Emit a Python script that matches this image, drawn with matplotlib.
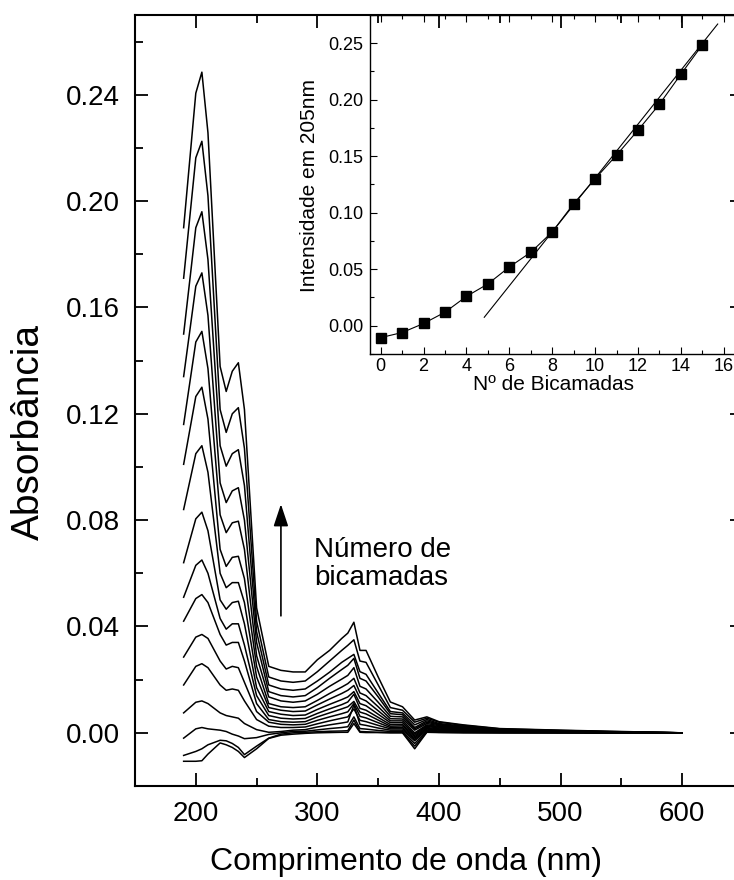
import matplotlib
matplotlib.use('Agg')
import matplotlib.pyplot as plt
from matplotlib.ticker import MultipleLocator, FormatStrFormatter

plt.rcParams['font.family'] = ['Liberation Sans', 'DejaVu Sans']

# comprimento de onda (nm) comum a todos os espectros
WAVELENGTH = [190, 200, 205, 210, 220, 225, 230, 235, 240, 250, 260, 270, 280,
              290, 300, 310, 320, 325, 330, 335, 340, 350, 360, 370, 380, 390,
              400, 420, 450, 500, 550, 600]

# absorbância de cada bicamada (0 .. 15)
A00 = [-.0107, -.0107, -.0105, -.008, -.0038, -.0045, -.0055, -.007, -.0093, -.006, -.0021, -.0009, -.0005,
       -.0002, 0, .0001, .0002, .0002, .0035, .0002, .0001, .0001, 0, 0, -.006, .0002,
       .0001, 0, 0, 0, 0, 0]
A01 = [-.0085, -.007, -.006, -.0045, -.0028, -.003, -.004, -.0055, -.0082, -.005, -.002, -.0005, 0,
       .0002, .0004, .0006, .0007, .0008, .0048, .0005, .0004, .0002, .0001, .0001, -.005, .0003,
       .0002, .0001, 0, 0, 0, 0]
A02 = [-.002, .0015, .002, .0015, .001, .0005, -.0005, -.0012, -.0022, -.0018, -.0006, 0, .0005,
       .0006, .0011, .0016, .002, .0023, .006, .0016, .0014, .0009, .0005, .0005, -.004, .0006,
       .0004, .0002, .0001, 0, 0, 0]
A03 = [.0075, .0115, .012, .011, .0075, .0065, .006, .0055, .0035, .0012, .0002, .0005, .001,
       .0012, .0022, .003, .0037, .0041, .0105, .0032, .0028, .0018, .001, .001, -.003, .001,
       .0007, .0004, .0002, .0001, 0, 0]
A04 = [.018, .025, .026, .0245, .018, .016, .0165, .016, .012, .005, .0025, .002, .002,
       .0022, .0034, .0045, .0055, .006, .009, .0047, .0042, .0028, .0015, .0015, -.0025, .0014,
       .001, .0006, .0004, .0002, 0, 0]
A05 = [.0285, .036, .037, .0355, .027, .024, .025, .0245, .019, .008, .004, .0032, .003,
       .0032, .0047, .006, .0072, .0079, .011, .0062, .0056, .0038, .002, .002, -.002, .0017,
       .0012, .0008, .0005, .0002, .0001, 0]
A06 = [.042, .0505, .052, .049, .037, .033, .034, .034, .027, .011, .005, .0042, .004,
       .0042, .006, .0075, .009, .0098, .0118, .0078, .0071, .0048, .0025, .0026, -.0015, .002,
       .0015, .001, .0006, .0003, .0001, 0]
A07 = [.051, .063, .065, .060, .043, .039, .041, .041, .033, .014, .0065, .0055, .0052,
       .0054, .0073, .009, .0106, .0116, .0145, .0092, .0085, .0058, .0031, .0031, -.001, .0024,
       .0018, .0012, .0007, .0003, .0001, 0]
A08 = [.064, .0805, .083, .076, .050, .0465, .049, .0495, .041, .017, .008, .007, .0065,
       .0067, .0088, .0107, .0125, .0135, .0155, .011, .0102, .007, .0038, .0038, -.0005, .0027,
       .0021, .0014, .0008, .0004, .0002, 0]
A09 = [.084, .105, .108, .098, .060, .0546, .0565, .0565, .049, .021, .0095, .0085, .008,
       .0082, .0105, .0127, .0148, .016, .0178, .013, .012, .0083, .0045, .0045, 0, .003,
       .0024, .0016, .0009, .0004, .0002, 0]
A10 = [.101, .1265, .130, .118, .069, .0626, .066, .0664, .058, .025, .011, .0098, .0095,
       .0098, .0122, .0148, .0172, .0185, .0205, .015, .014, .0098, .0053, .0052, .001, .0035,
       .0027, .0018, .001, .0005, .0002, 0]
A11 = [.116, .147, .151, .137, .082, .0753, .079, .0796, .069, .029, .0135, .012, .0115,
       .012, .0145, .0175, .0202, .0216, .0245, .0175, .0165, .0115, .0062, .006, .0015, .004,
       .003, .002, .0011, .0006, .0003, 0]
A12 = [.134, .168, .173, .157, .094, .0866, .091, .0922, .080, .034, .0155, .014, .0135,
       .014, .017, .0205, .0238, .0254, .028, .0205, .0195, .0135, .0072, .0068, .002, .0045,
       .0032, .0022, .0012, .0007, .0003, 0]
A13 = [.150, .190, .196, .178, .108, .1003, .105, .1065, .093, .038, .018, .0165, .016,
       .0165, .0195, .0228, .0265, .028, .0295, .023, .022, .015, .008, .0075, .003, .005,
       .0035, .0025, .0013, .0008, .0003, 0]
A14 = [.171, .2163, .2225, .202, .1216, .113, .120, .1223, .107, .042, .021, .0195, .019,
       .0195, .023, .027, .031, .0329, .035, .027, .0265, .018, .0095, .0085, .004, .0055,
       .004, .0028, .0015, .0009, .0004, 0]
A15 = [.190, .2406, .2485, .2257, .1378, .1284, .136, .1392, .1216, .047, .025, .0235, .0229,
       .0229, .0275, .031, .0355, .0375, .0416, .031, .031, .021, .0116, .0098, .0048, .006,
       .0042, .003, .0016, .001, .0005, 0]

SPECTRA = [A00, A01, A02, A03, A04, A05, A06, A07,
           A08, A09, A10, A11, A12, A13, A14, A15]

# inset: intensidade em 205 nm x numero de bicamadas
LAYERS = [0, 1, 2, 3, 4, 5, 6, 7, 8, 9, 10, 11, 12, 13, 14, 15]
INTENSITY_205 = [s[WAVELENGTH.index(205)] for s in SPECTRA]

# ajuste linear da regiao final
FIT_SLOPE = 0.02383
FIT_INTERCEPT = -0.1076
FIT_SPAN = [4.83, 15.72]

W, H = 734, 880
fig = plt.figure(figsize=(W / 100, H / 100), dpi=100)

# ---- grafico principal ----
ax = fig.add_axes([135 / W, 94 / H, 608 / W, 771 / H])
for s in SPECTRA:
    ax.plot(WAVELENGTH, s, color='black', lw=1.1)

ax.set_xlim(150, 650)
ax.set_ylim(-0.02, 0.27)
ax.xaxis.set_major_locator(MultipleLocator(100))
ax.xaxis.set_minor_locator(MultipleLocator(50))
ax.yaxis.set_major_locator(MultipleLocator(0.04))
ax.yaxis.set_minor_locator(MultipleLocator(0.02))
ax.yaxis.set_major_formatter(FormatStrFormatter('%.2f'))
ax.tick_params(which='both', direction='in', top=True, right=True,
               width=1.3, labelsize=20, pad=11)
ax.tick_params(which='major', length=9.5)
ax.tick_params(which='minor', length=5.5)
for sp in ax.spines.values():
    sp.set_linewidth(1.5)

ax.set_xlabel('Comprimento de onda (nm)', fontsize=23, va='center')
ax.xaxis.set_label_coords(0.4457, -0.0986)
ax.set_ylabel('Absorbância', fontsize=28, va='center')
ax.yaxis.set_label_coords(-0.175, 0.459)

# seta indicando o aumento do numero de bicamadas
ax.annotate('', xy=(270, 0.086), xytext=(270, 0.044),
            arrowprops=dict(arrowstyle='-|>,head_length=0.9,head_width=0.3',
                            color='black', lw=1.2, mutation_scale=15,
                            shrinkA=0, shrinkB=0))
ax.text(297, 0.0635, 'Número de\nbicamadas', fontsize=20,
        ha='left', va='center', linespacing=1.1)

# ---- inset ----
ins = fig.add_axes([370 / W, 526 / H, 373 / W, 339 / H])
ins.set_facecolor('none')
ins.plot(LAYERS, INTENSITY_205, color='black', lw=0.8, marker='s',
         ms=7.2, mfc='black', mec='black')
ins.plot(FIT_SPAN, [FIT_SLOPE * x + FIT_INTERCEPT for x in FIT_SPAN],
         color='black', lw=0.8)

ins.set_xlim(-0.5, 16.9)
ins.set_ylim(-0.025, 0.275)
ins.xaxis.set_major_locator(MultipleLocator(2))
ins.xaxis.set_minor_locator(MultipleLocator(1))
ins.yaxis.set_major_locator(MultipleLocator(0.05))
ins.yaxis.set_minor_locator(MultipleLocator(0.025))
ins.yaxis.set_major_formatter(FormatStrFormatter('%.2f'))
ins.tick_params(which='both', direction='in', top=True, right=True,
                width=0.8, labelsize=13, pad=5)
ins.tick_params(axis='x', pad=3)
ins.tick_params(which='major', length=5)
ins.tick_params(which='minor', length=3)
for sp in ins.spines.values():
    sp.set_linewidth(1.0)

ins.set_xlabel('Nº de Bicamadas', fontsize=15, va='center')
ins.xaxis.set_label_coords(0.493, -0.0885)
ins.set_ylabel('Intensidade em 205nm', fontsize=15, va='center')
ins.yaxis.set_label_coords(-0.161, 0.4956)

fig.savefig('out.png', dpi=100, facecolor='white')
